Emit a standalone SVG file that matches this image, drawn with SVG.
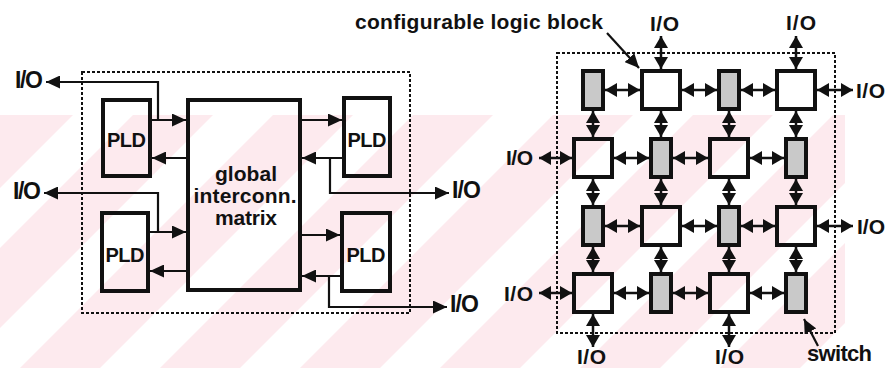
<svg xmlns="http://www.w3.org/2000/svg" width="889" height="368" viewBox="0 0 889 368">
<style>
.box{fill:none;stroke:#111;stroke-width:4}
.sw{fill:#c9c9c9;stroke:#111;stroke-width:4}
.dot{fill:none;stroke:#111;stroke-width:2;stroke-dasharray:3 2}
.cl{fill:none;stroke:#111;stroke-width:2.2;marker-end:url(#A)}
.cr{fill:none;stroke:#111;stroke-width:2.5;marker-start:url(#a);marker-end:url(#a)}
.t{font-family:"Liberation Sans",Arial,sans-serif;font-weight:bold;fill:#111}
.wm{fill:#fdeaee}
</style>
<defs>
<marker id="A" viewBox="0 0 14 13" refX="14" refY="6.5" markerWidth="14" markerHeight="13" markerUnits="userSpaceOnUse" orient="auto-start-reverse"><path d="M0,0 L14,6.5 L0,13 z" fill="#111"/></marker>
<marker id="a" viewBox="0 0 12 14" refX="12" refY="7" markerWidth="12" markerHeight="14" markerUnits="userSpaceOnUse" orient="auto-start-reverse"><path d="M0,0 L12,7 L0,14 z" fill="#111"/></marker>
<clipPath id="wc"><rect x="0" y="115" width="845" height="253"/></clipPath>
</defs>
<rect width="889" height="368" fill="#fff"/>
<g id="watermark" clip-path="url(#wc)">
<polygon class="wm" points="-260,368 -180,368 73,115 -7,115"/>
<polygon class="wm" points="-120,368 -40,368 213,115 133,115"/>
<polygon class="wm" points="20,368 100,368 353,115 273,115"/>
<polygon class="wm" points="160,368 240,368 493,115 413,115"/>
<polygon class="wm" points="300,368 380,368 633,115 553,115"/>
<polygon class="wm" points="440,368 520,368 773,115 693,115"/>
<polygon class="wm" points="580,368 660,368 913,115 833,115"/>
<polygon class="wm" points="720,368 800,368 1053,115 973,115"/>
</g>

<g id="left-frame"><rect class="dot" x="82" y="72" width="328" height="241"/></g>
<g id="pld1"><rect class="box" x="103" y="100" width="47" height="76"/><text class="t" x="126.5" y="147" font-size="20" text-anchor="middle" font-weight="normal" textLength="39">PLD</text></g>
<g id="pld2"><rect class="box" x="102" y="213" width="46" height="78"/><text class="t" x="125" y="262" font-size="20" text-anchor="middle" font-weight="normal" textLength="39">PLD</text></g>
<g id="pld3"><rect class="box" x="344" y="98" width="46" height="78"/><text class="t" x="367" y="147" font-size="20" text-anchor="middle" font-weight="normal" textLength="39">PLD</text></g>
<g id="pld4"><rect class="box" x="342" y="213" width="48" height="78"/><text class="t" x="366" y="262" font-size="20" text-anchor="middle" font-weight="normal" textLength="39">PLD</text></g>
<g id="matrix"><rect class="box" x="188" y="100" width="112" height="190"/>
<text class="t" x="246" y="181" font-size="21" text-anchor="middle" textLength="62">global</text>
<text class="t" x="245" y="203" font-size="21" text-anchor="middle" textLength="103">interconn.</text>
<text class="t" x="246" y="225" font-size="21" text-anchor="middle" textLength="62">matrix</text></g>
<g id="io-left" class="t" font-size="23">
<text x="15" y="88" textLength="28">I/O</text>
<text x="13" y="199" textLength="28">I/O</text>
<text x="452" y="198" textLength="29">I/O</text>
<text x="450" y="312" textLength="29">I/O</text>
</g>
<g id="left-connectors">
<path class="cl" d="M152,120 H186"/>
<path class="cl" d="M158,120 V82 H46"/>
<path class="cl" d="M186,158 H152"/>
<path class="cl" d="M150,232 H186"/>
<path class="cl" d="M158,232 V193 H44"/>
<path class="cl" d="M186,271 H150"/>
<path class="cl" d="M302,120 H342"/>
<path class="cl" d="M342,158 H302"/>
<path class="cl" d="M330,158 V193 H449"/>
<path class="cl" d="M302,235 H340"/>
<path class="cl" d="M340,276 H302"/>
<path class="cl" d="M329,276 V307 H447"/>
</g>

<g id="right-frame"><rect class="dot" x="557" y="53" width="278" height="280"/></g>
<g id="r0c0"><rect class="sw" x="583" y="71" width="20" height="38"/></g>
<g id="r0c1"><rect class="box" x="642" y="71" width="38" height="38"/></g>
<g id="r0c2"><rect class="sw" x="719" y="71" width="20" height="38"/></g>
<g id="r0c3"><rect class="box" x="777" y="71" width="38" height="38"/></g>
<g id="r1c0"><rect class="box" x="574" y="139" width="38" height="38"/></g>
<g id="r1c1"><rect class="sw" x="651" y="139" width="20" height="38"/></g>
<g id="r1c2"><rect class="box" x="710" y="139" width="38" height="38"/></g>
<g id="r1c3"><rect class="sw" x="786" y="139" width="20" height="38"/></g>
<g id="r2c0"><rect class="sw" x="583" y="207" width="20" height="38"/></g>
<g id="r2c1"><rect class="box" x="642" y="207" width="38" height="38"/></g>
<g id="r2c2"><rect class="sw" x="719" y="207" width="20" height="38"/></g>
<g id="r2c3"><rect class="box" x="777" y="207" width="38" height="38"/></g>
<g id="r3c0"><rect class="box" x="574" y="274" width="38" height="38"/></g>
<g id="r3c1"><rect class="sw" x="651" y="274" width="20" height="38"/></g>
<g id="r3c2"><rect class="box" x="710" y="274" width="38" height="38"/></g>
<g id="r3c3"><rect class="sw" x="786" y="274" width="20" height="38"/></g>

<g id="right-labels" class="t" font-size="21">
<text x="355" y="29" textLength="248">configurable logic block</text>
<text x="650" y="31" textLength="29">I/O</text>
<text x="786" y="30" textLength="30">I/O</text>
<text x="856" y="98" textLength="29">I/O</text>
<text x="857" y="234" textLength="28">I/O</text>
<text x="506" y="165" textLength="27">I/O</text>
<text x="504" y="301" textLength="29">I/O</text>
<text x="577" y="364" textLength="29">I/O</text>
<text x="715" y="364" textLength="29">I/O</text>
<text x="807" y="361" font-size="22" textLength="65">switch</text>
</g>

<g id="right-connectors">
<path class="cr" d="M605,90 H640"/><path class="cr" d="M682,90 H717"/><path class="cr" d="M741,90 H775"/>
<path class="cr" d="M614,158 H649"/><path class="cr" d="M673,158 H708"/><path class="cr" d="M750,158 H784"/>
<path class="cr" d="M605,226 H640"/><path class="cr" d="M682,226 H717"/><path class="cr" d="M741,226 H775"/>
<path class="cr" d="M614,293 H649"/><path class="cr" d="M673,293 H708"/><path class="cr" d="M750,293 H784"/>
<path class="cr" d="M593,111 V137"/><path class="cr" d="M661,111 V137"/><path class="cr" d="M729,111 V137"/><path class="cr" d="M796,111 V137"/>
<path class="cr" d="M593,179 V205"/><path class="cr" d="M661,179 V205"/><path class="cr" d="M729,179 V205"/><path class="cr" d="M796,179 V205"/>
<path class="cr" d="M593,247 V272"/><path class="cr" d="M661,247 V272"/><path class="cr" d="M729,247 V272"/><path class="cr" d="M796,247 V272"/>
<path class="cr" d="M661,36 V69"/>
<path class="cr" d="M796,36 V69"/>
<path class="cr" d="M853,90 H817"/>
<path class="cr" d="M853,226 H817"/>
<path class="cr" d="M539,158 H572"/>
<path class="cr" d="M539,293 H572"/>
<path class="cr" d="M593,347 V314"/>
<path class="cr" d="M729,347 V314"/>
<path class="cl" d="M607,33 L639,68"/>
<path class="cl" d="M818,346 L804,319"/>
</g>
</svg>
